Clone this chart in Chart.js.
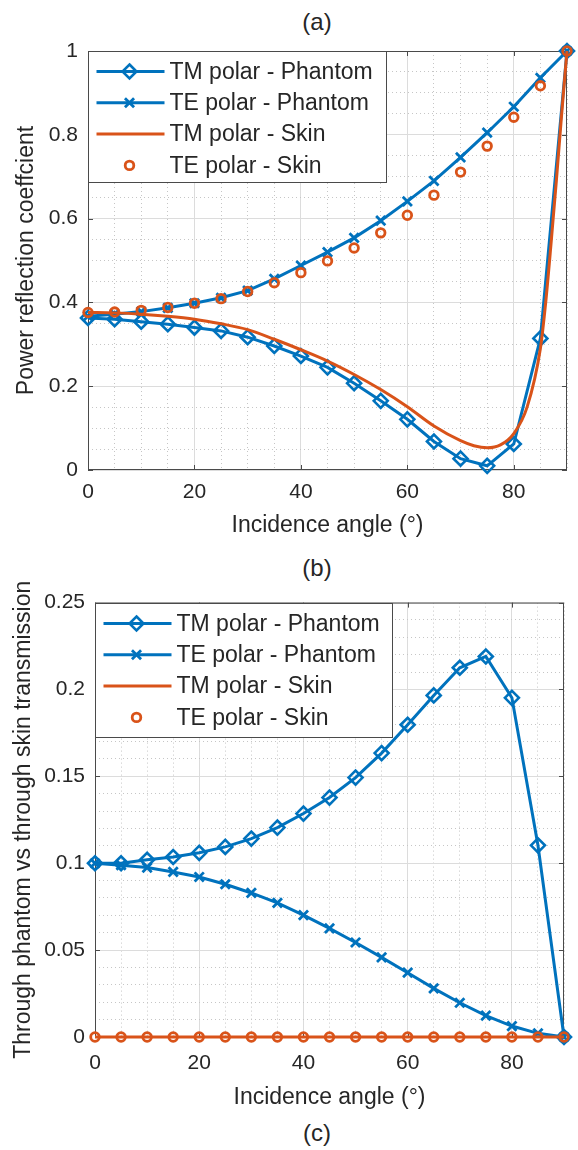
<!DOCTYPE html>
<html>
<head>
<meta charset="utf-8">
<script src="https://cdn.jsdelivr.net/npm/chart.js@4.4.1/dist/chart.umd.min.js"></script>
<style>
  body { margin: 0; background: #fff; width: 578px; height: 1150px; position: relative; overflow: hidden;
         font-family: "Liberation Sans", Arial, sans-serif; color: #262626; }
  .cap { position: absolute; left: 267px; width: 100px; text-align: center; font-size: 24px; line-height: 28px; }
  .wrap { position: absolute; left: 0; width: 578px; }
</style>
</head>
<body>
<div class="cap" style="top:8px">(a)</div>
<div class="wrap" style="top:0;height:543px"><canvas id="chartA" width="578" height="543"></canvas></div>
<div class="cap" style="top:554px">(b)</div>
<div class="wrap" style="top:580px;height:535px"><canvas id="chartB" width="578" height="535"></canvas></div>
<div class="cap" style="top:1119px">(c)</div>
<script>
// incidence angles (deg) shared by the marker series
const angles = [0, 5, 10, 15, 20, 25, 30, 35, 40, 45, 50, 55, 60, 65, 70, 75, 80, 85, 90];

// (a) power reflection coefficient
const tmPhantomA = [0.363, 0.36, 0.354, 0.348, 0.34, 0.332, 0.317, 0.296, 0.272, 0.245, 0.207, 0.165, 0.121, 0.068, 0.027, 0.01, 0.062, 0.314, 1.0];
const tePhantomA = [0.367, 0.372, 0.378, 0.387, 0.398, 0.411, 0.428, 0.456, 0.488, 0.52, 0.554, 0.595, 0.641, 0.69, 0.746, 0.805, 0.867, 0.936, 1.0];
const teSkinA = [0.376, 0.377, 0.381, 0.388, 0.398, 0.409, 0.426, 0.447, 0.471, 0.499, 0.53, 0.566, 0.608, 0.656, 0.711, 0.773, 0.842, 0.917, 1.0];
// TM skin is a smooth curve, read at a finer step near grazing
const tmSkinAngles = [0, 5, 10, 15, 20, 25, 30, 35, 40, 45, 50, 55, 60, 65, 70, 72.5, 75, 77.5, 80, 82.5, 85, 86, 87, 88, 89, 90];
const tmSkinA = [0.376, 0.375, 0.372, 0.367, 0.36, 0.349, 0.335, 0.312, 0.287, 0.26, 0.228, 0.192, 0.151, 0.105, 0.07, 0.058, 0.053, 0.06, 0.087, 0.15, 0.29, 0.4, 0.54, 0.69, 0.85, 1.0];

// (b) through phantom vs through skin transmission
const tmPhantomB = [0.1, 0.1, 0.102, 0.1036, 0.106, 0.1094, 0.1142, 0.1205, 0.1286, 0.1378, 0.1493, 0.1634, 0.1797, 0.1966, 0.2125, 0.219, 0.1952, 0.1103, 0];
const tePhantomB = [0.1, 0.0989, 0.0975, 0.095, 0.0921, 0.0879, 0.0829, 0.0772, 0.0701, 0.0625, 0.0544, 0.0458, 0.037, 0.028, 0.0197, 0.0123, 0.0063, 0.0021, 0];
const tmSkinB = [0, 0, 0, 0, 0, 0, 0, 0, 0, 0, 0, 0, 0, 0, 0, 0, 0, 0, 0];
const teSkinB = [0, 0, 0, 0, 0, 0, 0, 0, 0, 0, 0, 0, 0, 0, 0, 0, 0, 0, 0];

const seriesNames = ['TM polar - Phantom', 'TE polar - Phantom', 'TM polar - Skin', 'TE polar - Skin'];

const BLUE = '#0072BD';
const ORANGE = '#D95319';
const TXT = '#262626';
const FONT = '"Liberation Sans", Arial, sans-serif';

function pts(xs, ys) { return xs.map((x, i) => ({ x: x, y: ys[i] })); }
function isMajor(v, step) { const r = v / step; return Math.abs(r - Math.round(r)) < 1e-6; }

function makeDatasets(tmP, teP, tmSx, tmS, teS) {
  return [
    { label: seriesNames[0], data: pts(angles, tmP), showLine: true, borderColor: BLUE, borderWidth: 3,
      pointStyle: 'rectRot', pointRadius: 7, pointBorderWidth: 2.6, pointBackgroundColor: 'rgba(0,0,0,0)',
      pointBorderColor: BLUE, tension: 0, order: 4, clip: false },
    { label: seriesNames[1], data: pts(angles, teP), showLine: true, borderColor: BLUE, borderWidth: 3,
      pointStyle: 'crossRot', pointRadius: 6.5, pointBorderWidth: 2.8, pointBorderColor: BLUE,
      tension: 0, order: 3, clip: false },
    { label: seriesNames[2], data: pts(tmSx, tmS), showLine: true, borderColor: ORANGE, borderWidth: 3,
      pointRadius: 0, cubicInterpolationMode: 'monotone', order: 2, clip: false },
    { label: seriesNames[3], data: pts(angles, teS), showLine: false, borderColor: ORANGE,
      pointStyle: 'circle', pointRadius: 4.3, pointBorderWidth: 2.8, pointBackgroundColor: 'rgba(0,0,0,0)',
      pointBorderColor: ORANGE, order: 1, clip: false }
  ];
}

// axes box with inward major ticks, like the original figure
const boxPlugin = {
  id: 'box',
  beforeDatasetsDraw(chart, args, opts) {
    const ctx = chart.ctx, a = chart.chartArea;
    const xs = chart.scales.x, ys = chart.scales.y;
    ctx.save();
    ctx.strokeStyle = '#4a4a4a';
    ctx.lineWidth = 1;
    ctx.strokeRect(a.left + 0.5, a.top + 0.5, a.right - a.left - 1, a.bottom - a.top - 1);
    ctx.beginPath();
    xs.ticks.forEach(t => {
      if (!isMajor(t.value, opts.majorX)) return;
      const px = Math.round(xs.getPixelForValue(t.value)) + 0.5;
      ctx.moveTo(px, a.bottom); ctx.lineTo(px, a.bottom - 5);
      ctx.moveTo(px, a.top); ctx.lineTo(px, a.top + 5);
    });
    ys.ticks.forEach(t => {
      if (!isMajor(t.value, opts.majorY)) return;
      const py = Math.round(ys.getPixelForValue(t.value)) + 0.5;
      ctx.moveTo(a.left, py); ctx.lineTo(a.left + 5, py);
      ctx.moveTo(a.right, py); ctx.lineTo(a.right - 5, py);
    });
    ctx.stroke();
    ctx.restore();
  }
};

function drawMarker(ctx, ds, x, y) {
  const r = ds.pointRadius;
  if (!r) return;
  ctx.save();
  ctx.strokeStyle = ds.pointBorderColor;
  ctx.lineWidth = ds.pointBorderWidth;
  ctx.beginPath();
  if (ds.pointStyle === 'rectRot') {
    ctx.moveTo(x, y - r); ctx.lineTo(x + r, y); ctx.lineTo(x, y + r); ctx.lineTo(x - r, y); ctx.closePath();
  } else if (ds.pointStyle === 'crossRot') {
    const d = r * 0.7;
    ctx.moveTo(x - d, y - d); ctx.lineTo(x + d, y + d);
    ctx.moveTo(x + d, y - d); ctx.lineTo(x - d, y + d);
  } else {
    ctx.arc(x, y, r, 0, Math.PI * 2);
  }
  ctx.stroke();
  ctx.restore();
}

// MATLAB-like legend box in the upper left corner of the axes
const legendBox = {
  id: 'legendBox',
  afterDatasetsDraw(chart, args, opts) {
    const ctx = chart.ctx, a = chart.chartArea;
    const x0 = Math.round(a.left) + 0.5, y0 = Math.round(a.top) + 0.5;
    ctx.save();
    ctx.fillStyle = '#fff';
    ctx.fillRect(x0, y0, opts.width, opts.height);
    ctx.strokeStyle = '#4a4a4a';
    ctx.lineWidth = 1;
    ctx.strokeRect(x0, y0, opts.width, opts.height);
    ctx.font = '23px ' + FONT;
    ctx.textBaseline = 'middle';
    chart.data.datasets.forEach((ds, i) => {
      const y = y0 + opts.first + i * opts.step;
      if (ds.showLine) {
        ctx.strokeStyle = ds.borderColor;
        ctx.lineWidth = ds.borderWidth;
        ctx.beginPath(); ctx.moveTo(x0 + 8, y); ctx.lineTo(x0 + 76, y); ctx.stroke();
      }
      drawMarker(ctx, ds, x0 + 41, y);
      ctx.fillStyle = TXT;
      ctx.fillText(ds.label, x0 + 81, y + 1);
    });
    ctx.restore();
  }
};

function makeOptions(cfg) {
  return {
    responsive: false,
    animation: false,
    layout: { padding: { top: cfg.top, right: 11, left: 0, bottom: 0 } },
    plugins: {
      legend: { display: false },
      tooltip: { enabled: false },
      box: { majorX: 20, majorY: cfg.majorY },
      legendBox: { width: cfg.legW, height: cfg.legH, first: 20, step: 31.3 }
    },
    scales: {
      x: {
        type: 'linear', min: 0, max: 90,
        afterFit: s => { s.height = cfg.xHeight; },
        grid: {
          drawTicks: false,
          color: c => isMajor(c.tick.value, 20) ? '#dcdcdc' : '#c6c6c6'
        },
        border: { display: false, dash: c => isMajor(c.tick.value, 20) ? [] : [1, 3] },
        ticks: {
          stepSize: 5, autoSkip: false, maxRotation: 0, padding: cfg.xPad, color: TXT,
          font: { family: FONT, size: 21 },
          callback: v => isMajor(v, 20) ? String(v) : ''
        },
        title: { display: true, text: 'Incidence angle (°)', color: TXT, font: { family: FONT, size: 23 }, padding: 4 }
      },
      y: {
        min: 0, max: cfg.yMax,
        afterFit: s => { s.width = cfg.yWidth; },
        grid: {
          drawTicks: false,
          color: c => isMajor(c.tick.value, cfg.majorY) ? '#dcdcdc' : '#c6c6c6'
        },
        border: { display: false, dash: c => isMajor(c.tick.value, cfg.majorY) ? [] : [1, 3] },
        ticks: {
          stepSize: cfg.minorY, autoSkip: false, padding: 10, color: TXT,
          font: { family: FONT, size: 21 },
          callback: v => isMajor(v, cfg.majorY) ? String(Number(v.toFixed(2))) : ''
        },
        title: { display: true, text: cfg.yTitle, color: TXT, font: { family: FONT, size: 23 }, padding: { top: cfg.yTitlePad, bottom: 0 } }
      }
    }
  };
}

new Chart(document.getElementById('chartA'), {
  type: 'scatter',
  data: { datasets: makeDatasets(tmPhantomA, tePhantomA, tmSkinAngles, tmSkinA, teSkinA) },
  options: makeOptions({ top: 51, xHeight: 73, xPad: 10, yWidth: 88, yMax: 1, majorY: 0.2, minorY: 0.05,
    yTitle: 'Power reflection coeffcient', yTitlePad: 13, legW: 298, legH: 131 }),
  plugins: [boxPlugin, legendBox]
});

new Chart(document.getElementById('chartB'), {
  type: 'scatter',
  data: { datasets: makeDatasets(tmPhantomB, tePhantomB, angles, tmSkinB, teSkinB) },
  options: makeOptions({ top: 22, xHeight: 78, xPad: 14, yWidth: 95, yMax: 0.25, majorY: 0.05, minorY: 0.01,
    yTitle: 'Through phantom vs through skin transmission', yTitlePad: 10, legW: 297, legH: 134 }),
  plugins: [boxPlugin, legendBox]
});
</script>
</body>
</html>
